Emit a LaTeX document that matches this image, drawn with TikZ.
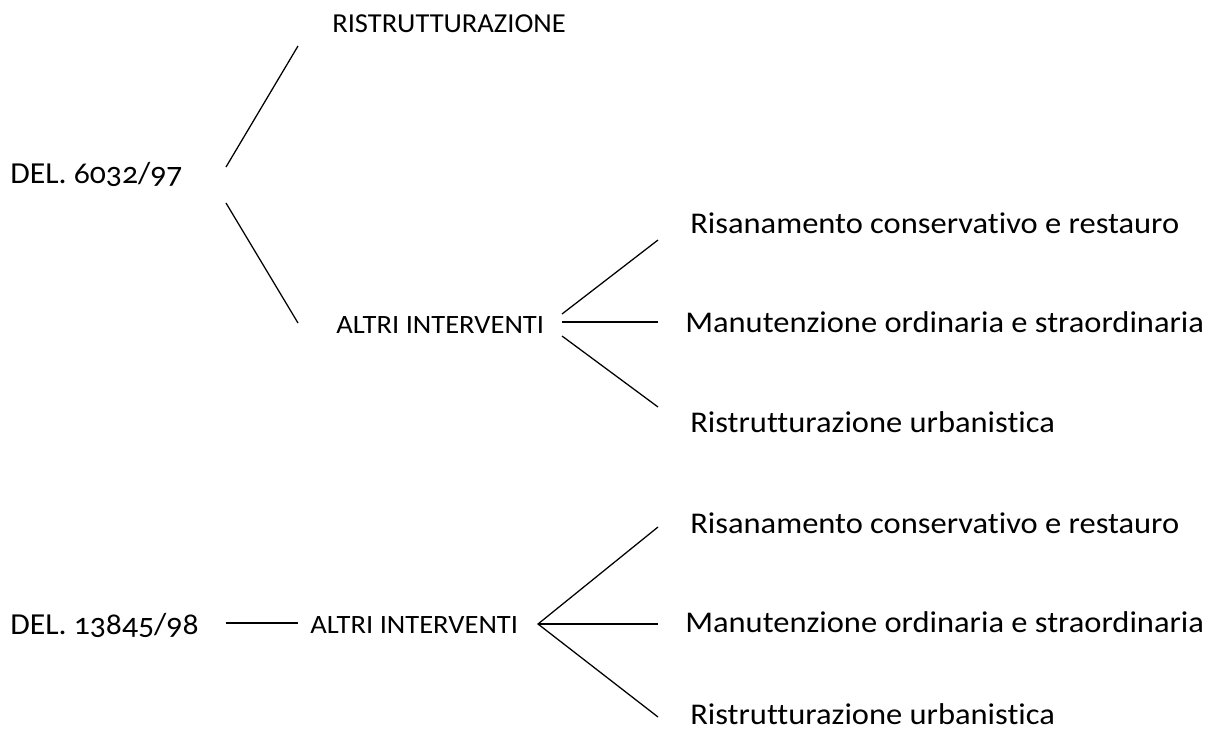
\documentclass[tikz,border=0pt]{standalone}
\usepackage{fontspec}
\setmainfont{Carlito}[Numbers=OldStyle,FakeStretch=1.04,Ligatures=NoCommon]
\newfontfamily\widefont{Carlito}[Numbers=OldStyle,FakeStretch=1.08,Ligatures=NoCommon]
\usepackage{tikz}
\usetikzlibrary{positioning}
\usepackage{xcolor}
\definecolor{ink}{RGB}{0,0,0}

\begin{document}
\begin{tikzpicture}[x=0.025cm,y=-0.025cm,
  every node/.style={anchor=base west,inner sep=0pt,text=ink},
  root/.style={font=\fontsize{21.7pt}{26pt}\selectfont},
  head/.style={font=\fontsize{19.5pt}{23pt}\selectfont},
  mid/.style={font=\widefont\fontsize{18.8pt}{22pt}\selectfont},
  leaf/.style={font=\widefont\fontsize{21.4pt}{25pt}\selectfont},
  branch/.style={draw=ink,line width=0.9pt}]
\useasboundingbox (0,0) rectangle (1220,738);
\node[root] (del1) at (10,183) {DEL. 6032/97};
\node[head] (ristr) at (332,32) {RISTRUTTURAZIONE};
\node[mid] (alt1) at (336,333) {ALTRI INTERVENTI};
\node[leaf] (ris1) at (690,233.5) {Risanamento conservativo e restauro};
\node[leaf] (man1) at (685,332.5) {Manutenzione ordinaria e straordinaria};
\node[leaf] (urb1) at (690,432.5) {Ristrutturazione urbanistica};
\node[root] (del2) at (10,634) {DEL. 13845/98};
\node[mid] (alt2) at (310,633) {ALTRI INTERVENTI};
\node[leaf] (ris2) at (690,533.5) {Risanamento conservativo e restauro};
\node[leaf] (man2) at (685,632.5) {Manutenzione ordinaria e straordinaria};
\node[leaf] (urb2) at (690,724.5) {Ristrutturazione urbanistica};
\draw[branch] ([shift={(216,-16)}]del1.base west) -- ([shift={(-34,14)}]ristr.base west);
\draw[branch] ([shift={(216,20)}]del1.base west) -- ([shift={(-38,-10)}]alt1.base west);
\draw[branch] ([shift={(226,-19)}]alt1.base west) -- ([shift={(-32,6.5)}]ris1.base west);
\draw[branch] ([shift={(226,-11)}]alt1.base west) -- ([shift={(-27,-10.5)}]man1.base west);
\draw[branch] ([shift={(226,3)}]alt1.base west) -- ([shift={(-32,-25.5)}]urb1.base west);
\draw[branch] ([shift={(216,-11)}]del2.base west) -- ([shift={(-12,-10)}]alt2.base west);
\draw[branch] ([shift={(-32,-6.5)}]ris2.base west) -- ([shift={(228,-9)}]alt2.base west)
  -- ([shift={(-32,-7.5)}]urb2.base west);
\draw[branch] ([shift={(228,-9)}]alt2.base west) -- ([shift={(-27,-8.5)}]man2.base west);
\end{tikzpicture}
\end{document}
